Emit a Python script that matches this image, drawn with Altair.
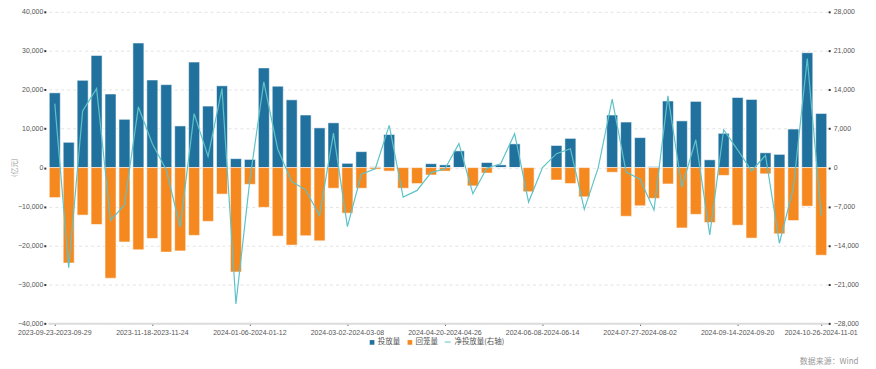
import altair as alt
import pandas as pd

weeks = [
    "2023-09-23-2023-09-29", "2023-10-07-2023-10-13", "2023-10-14-2023-10-20", "2023-10-21-2023-10-27",
    "2023-10-28-2023-11-03", "2023-11-04-2023-11-10", "2023-11-11-2023-11-17", "2023-11-18-2023-11-24",
    "2023-11-25-2023-12-01", "2023-12-02-2023-12-08", "2023-12-09-2023-12-15", "2023-12-16-2023-12-22",
    "2023-12-23-2023-12-29", "2023-12-30-2024-01-05", "2024-01-06-2024-01-12", "2024-01-13-2024-01-19",
    "2024-01-20-2024-01-26", "2024-01-27-2024-02-02", "2024-02-03-2024-02-09", "2024-02-17-2024-02-23",
    "2024-02-24-2024-03-01", "2024-03-02-2024-03-08", "2024-03-09-2024-03-15", "2024-03-16-2024-03-22",
    "2024-03-23-2024-03-29", "2024-03-30-2024-04-05", "2024-04-06-2024-04-12", "2024-04-13-2024-04-19",
    "2024-04-20-2024-04-26", "2024-04-27-2024-05-03", "2024-05-04-2024-05-10", "2024-05-11-2024-05-17",
    "2024-05-18-2024-05-24", "2024-05-25-2024-05-31", "2024-06-01-2024-06-07", "2024-06-08-2024-06-14",
    "2024-06-15-2024-06-21", "2024-06-22-2024-06-28", "2024-06-29-2024-07-05", "2024-07-06-2024-07-12",
    "2024-07-13-2024-07-19", "2024-07-20-2024-07-26", "2024-07-27-2024-08-02", "2024-08-03-2024-08-09",
    "2024-08-10-2024-08-16", "2024-08-17-2024-08-23", "2024-08-24-2024-08-30", "2024-08-31-2024-09-06",
    "2024-09-07-2024-09-13", "2024-09-14-2024-09-20", "2024-09-21-2024-09-27", "2024-09-28-2024-10-04",
    "2024-10-05-2024-10-11", "2024-10-12-2024-10-18", "2024-10-19-2024-10-25", "2024-10-26-2024-11-01",
]

inflow = [19200, 6500, 22400, 28800, 18900, 12400, 32000, 22500, 21300, 10700,
          27100, 15800, 21000, 2300, 2100, 25600, 20900, 17400, 13500, 10200,
          11500, 1100, 4100, 200, 8500, 0, 0, 1000, 700, 4300,
          0, 1300, 700, 6100, 0, 0, 5700, 7500, 0, 0,
          13500, 11700, 7700, 250, 17100, 12000, 17000, 2000, 8800, 18000,
          17500, 3800, 3400, 9900, 29500, 13900]

outflow = [-7700, -24500, -12200, -14600, -28400, -19100, -21100, -18200, -21700, -21400,
           -17400, -13800, -6800, -26800, -4300, -10200, -17600, -19900, -17500, -18800,
           -5300, -11700, -5300, -400, -900, -5300, -4100, -1900, -900, 0,
           -4700, -1400, 0, 0, -6200, 0, -3200, -4100, -7500, 0,
           -1200, -12500, -9800, -7900, -4200, -15500, -12000, -14100, -2000, -14800,
           -18100, -1600, -17000, -13600, -9900, -22500]

shown_weeks = ["2023-09-23-2023-09-29", "2023-11-18-2023-11-24", "2024-01-06-2024-01-12",
               "2024-03-02-2024-03-08", "2024-04-20-2024-04-26", "2024-06-08-2024-06-14",
               "2024-07-27-2024-08-02", "2024-09-14-2024-09-20", "2024-10-26-2024-11-01"]

series_names = ["投放量", "回笼量"]
line_name = "净投放量(右轴)"
left_ticks = [-40000, -30000, -20000, -10000, 0, 10000, 20000, 30000, 40000]
right_ticks = [-28000, -21000, -14000, -7000, 0, 7000, 14000, 21000, 28000]

BLUE = "#21719e"
ORANGE = "#f5881f"
TEAL = "#5ec3c8"
LABEL_FONT = "Liberation Sans"
CJK_FONT = "Noto Sans CJK SC"

df = pd.DataFrame({"week": weeks, "投放量": inflow, "回笼量": outflow})
long_df = df.melt(id_vars="week", var_name="type", value_name="value")

x_enc = alt.X(
    "week:N", sort=weeks,
    scale=alt.Scale(paddingInner=0.21, paddingOuter=0.105),
    axis=alt.Axis(values=shown_weeks, labelAngle=0, title=None, labelFontSize=7,
                  labelFont=LABEL_FONT, labelColor="#555", domainColor="#dcdcdc",
                  domainWidth=2, tickColor="#555", tickSize=2, tickWidth=1,
                  labelPadding=3, grid=False),
)

bars = alt.Chart(long_df).mark_bar(stroke="white", strokeOpacity=0.55, strokeWidth=1).encode(
    x=x_enc,
    y=alt.Y("value:Q", stack=None,
            scale=alt.Scale(domain=[-40000, 40000], nice=False, zero=False),
            axis=alt.Axis(values=left_ticks, format=",d", title="(亿元)", grid=False,
                          domain=False, offset=2, tickSize=2, tickWidth=2, tickColor="#333",
                          labelFontSize=7, labelFont=LABEL_FONT, labelColor="#555",
                          labelPadding=1, titleFont=CJK_FONT, titleFontSize=7,
                          titleFontWeight="normal", titleColor="#999", titleAngle=270,
                          titleX=-31, titleY=156, titleAlign="center", titleBaseline="middle")),
    fill=alt.Fill("type:N", scale=alt.Scale(domain=series_names, range=[BLUE, ORANGE]),
                  legend=alt.Legend(orient="none", legendX=322, legendY=328, direction="horizontal",
                                    title=None, symbolType="square", symbolSize=22,
                                    labelFont=CJK_FONT, labelFontSize=7.5, labelColor="#555",
                                    labelOffset=2, columnPadding=6, symbolStrokeWidth=0)),
)

line = alt.Chart(df).transform_calculate(
    net="datum['投放量'] + datum['回笼量']",
    s="'" + line_name + "'",
).mark_line(strokeWidth=1.2, interpolate="linear").encode(
    x=x_enc,
    y=alt.Y("net:Q",
            scale=alt.Scale(domain=[-28000, 28000], nice=False, zero=False),
            axis=alt.Axis(orient="right", values=right_ticks, format=",d", title=None,
                          grid=True, gridDash=[3, 3], gridColor="#e3e3e3", gridWidth=1,
                          domain=False, tickSize=2, tickWidth=2, tickColor="#333",
                          labelFontSize=7, labelFont=LABEL_FONT, labelColor="#555",
                          labelPadding=3)),
    stroke=alt.Stroke("s:N", scale=alt.Scale(domain=[line_name], range=[TEAL]),
                      legend=alt.Legend(orient="none", legendX=398, legendY=328,
                                        direction="horizontal", title=None,
                                        symbolType="stroke", symbolSize=36,
                                        symbolStrokeWidth=1, symbolStrokeColor="#a8dfe2",
                                        labelFont=CJK_FONT, labelFontSize=7.5,
                                        labelColor="#555", labelOffset=3)),
)

chart = alt.layer(bars, line).resolve_scale(y="independent", fill="independent").properties(
    width=784, height=313,
    autosize=alt.AutoSizeParams(type="none"),
    padding={"left": 40, "top": 3, "right": 40, "bottom": 45},
    title=alt.TitleParams("数据来源：Wind", orient="bottom", anchor="end", fontSize=8,
                          font=CJK_FONT, color="#999", fontWeight="normal", offset=12,
                          frame="bounds"),
).configure_view(stroke=None)

chart.save("out.html", embed_options={"renderer": "svg", "actions": False})
